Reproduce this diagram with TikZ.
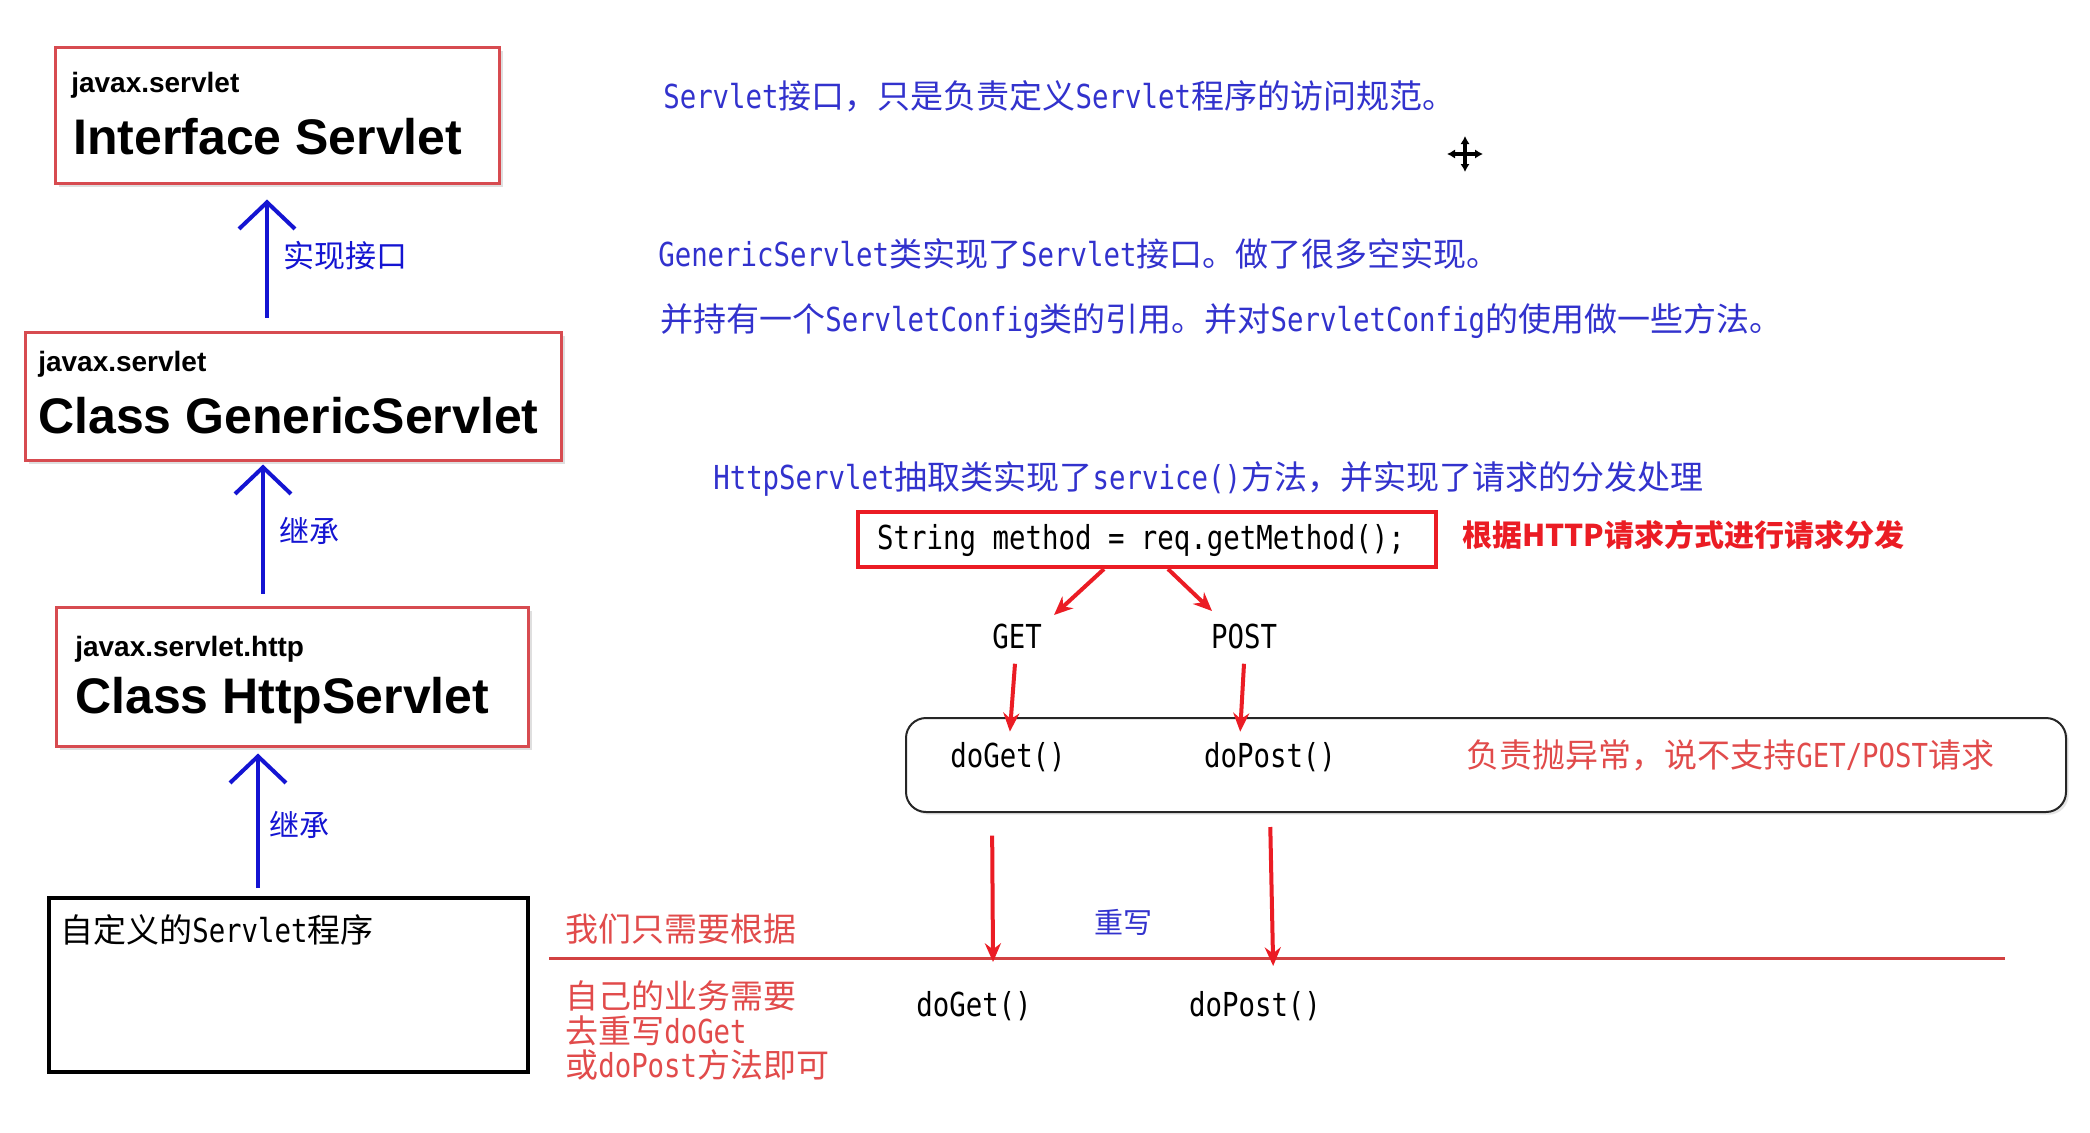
\documentclass[tikz,border=0pt]{standalone}
\usepackage{fontspec}
\setmainfont{Liberation Sans}
\newfontfamily\cjk{Noto Sans CJK SC}
\newfontfamily\lat[FakeStretch=0.83]{DejaVu Sans Mono}
\usetikzlibrary{arrows.meta,fit,shadows,calc}
\definecolor{boxred}{RGB}{215,75,80}
\definecolor{arrowblue}{RGB}{20,20,210}
\definecolor{txtblue}{RGB}{50,50,205}
\definecolor{codered}{RGB}{235,28,36}
\definecolor{softred}{RGB}{225,75,75}
\definecolor{linered}{RGB}{210,65,65}
\newcommand\fsz[1]{\fontsize{#1}{#1}\selectfont}
\newcommand\hw[1]{{\lat #1}}
\begin{document}
\begin{tikzpicture}[x=0.75pt,y=-0.75pt,
  clsbox/.style={draw=boxred, line width=2.25pt, inner sep=0pt, fill=white,
    drop shadow={shadow xshift=3pt, shadow yshift=-3pt, opacity=0.25}},
  pkg/.style={font=\bfseries\fsz{21pt}, anchor=base west, inner sep=0pt},
  cls/.style={font=\bfseries\fsz{37.5pt}, anchor=base west, inner sep=0pt},
  barrow/.style={draw=arrowblue, line width=3pt, -{Straight Barb[length=20pt,width=42pt]}},
  rarrow/.style={draw=codered, line width=3pt, -{Stealth[length=14pt,width=12pt]}},
  note/.style={font=\cjk\fsz{24.75pt}, anchor=west, inner sep=0pt},
  code/.style={font=\lat\fsz{24.75pt}, inner sep=0pt}]
\useasboundingbox (0,0) rectangle (2090,1132);
\fill[white] (0,0) rectangle (2090,1132);

% class boxes
\node[clsbox, fit={(55,47) (499,183)}] (b1) {};
\node[pkg] (p1) at (71,92) {javax.servlet};
\node[cls] (c1) at (73,154) {Interface Servlet};

\node[clsbox, fit={(25,332) (561,460)}] (b2) {};
\node[pkg] (p2) at (38,371) {javax.servlet};
\node[cls] (c2) at (38,433) {Class GenericServlet};

\node[clsbox, fit={(56,607) (528,746)}] (b3) {};
\node[pkg] (p3) at (75,656) {javax.servlet.http};
\node[cls] (c3) at (75,713) {Class HttpServlet};

\node[draw=black, line width=3pt, inner sep=0pt, fit={(49,898) (528,1072)}] (b4) {};
\node[note] (t4box) at (60,930) {自定义的\hw{Servlet}程序};

% blue inheritance arrows
\draw[barrow, shorten <=9.75pt, shorten >=11.25pt] (267,0 |- b2.north) -- (267,0 |- b1.south);
\node[note, text=arrowblue, font=\cjk\fsz{23.25pt}] (l1) at (283,256) {实现接口};
\draw[barrow, shorten <=9pt, shorten >=2.25pt] (263,0 |- b3.north) -- (263,0 |- b2.south);
\node[note, text=arrowblue, font=\cjk\fsz{22.5pt}] (l2) at (279,531) {继承};
\draw[barrow, shorten <=6pt, shorten >=4.5pt] (258,0 |- b4.north) -- (258,0 |- b3.south);
\node[note, text=arrowblue, font=\cjk\fsz{22.5pt}] (l3) at (269,825) {继承};

% blue notes
\node[note, text=txtblue] (t1) at (663,96) {\hw{Servlet}接口，只是负责定义\hw{Servlet}程序的访问规范。};
\node[note, text=txtblue] (t2) at (658,254) {\hw{GenericServlet}类实现了\hw{Servlet}接口。做了很多空实现。};
\node[note, text=txtblue] (t3) at (660,321) {并持有一个\hw{ServletConfig}类的引用。并对\hw{ServletConfig}的使用做一些方法。};
\node[note, text=txtblue] (t4) at (713,479) {\hw{HttpServlet}抽取类实现了\hw{service()}方法，并实现了请求的分发处理};

% move cursor
\draw[line width=2.5pt, {Latex[length=6pt,width=7pt]}-{Latex[length=6pt,width=7pt]}] (1447,154) -- (1483,154);
\draw[line width=2.5pt, {Latex[length=6pt,width=7pt]}-{Latex[length=6pt,width=7pt]}] (1465,136) -- (1465,172);

% dispatch
\node[draw=codered, line width=3pt, inner sep=0pt, fit={(858,512) (1436,567)}] (rbox) {};
\node[code] (rtext) at (1141,540) {String method = req.getMethod();};
\node[note, text=codered, font=\cjk\bfseries\fsz{22.5pt}] (rnote) at (1462,535) {根据HTTP请求方式进行请求分发};

\node[code] (get) at (1017,636) {GET};
\node[code] (post) at (1244,636) {POST};
\coordinate (tg) at (1054,615);
\coordinate (tp) at (1212,611);
\draw[rarrow] (1104,0 |- rbox.south) -- (tg);
\draw[rarrow] (1168,0 |- rbox.south) -- (tp);

\node[draw=black!85, line width=1.5pt, rounded corners=15pt, inner sep=0pt, fill=white,
  drop shadow={shadow xshift=2pt, shadow yshift=-2pt, opacity=0.2}, fit={(906,718) (2066,812)}] (rb) {};
\node[code] (dg1) at (1008,757) {doGet()};
\node[code] (dp1) at (1270,757) {doPost()};
\node[note, text=softred] (exc) at (1466,755) {负责抛异常，说不支持\hw{GET/POST}请求};

\draw[rarrow, shorten >=-11pt] ([shift={(-2,15)}]get.south) -- (1011,0 |- rb.north);
\draw[rarrow, shorten >=-11pt] ([shift={(0,15)}]post.south) -- (1241,0 |- rb.north);

% override line
\coordinate (ll) at (549,958);
\coordinate (lr) at (2005,958);
\draw[linered, line width=2.25pt] (ll) -- (lr);
\draw[rarrow, shorten <=17pt, shorten >=-3pt] (992,0 |- rb.south) -- (993,0 |- ll);
\draw[rarrow, shorten <=10.5pt, shorten >=-6pt] (1270,0 |- rb.south) -- (1273,0 |- ll);
\node[note, text=txtblue, font=\cjk\fsz{21.75pt}] (ow) at (1094,922) {重写};

\node[code] (dg2) at (974,1006) {doGet()};
\node[code] (dp2) at (1255,1006) {doPost()};

\node[note, text=softred] (r1) at (565,929) {我们只需要根据};
\node[note, text=softred] (r2) at (565,996) {自己的业务需要};
\node[note, text=softred] (r3) at (565,1031) {去重写\hw{doGet}};
\node[note, text=softred] (r4) at (565,1065) {或\hw{doPost}方法即可};
\end{tikzpicture}
\end{document}
